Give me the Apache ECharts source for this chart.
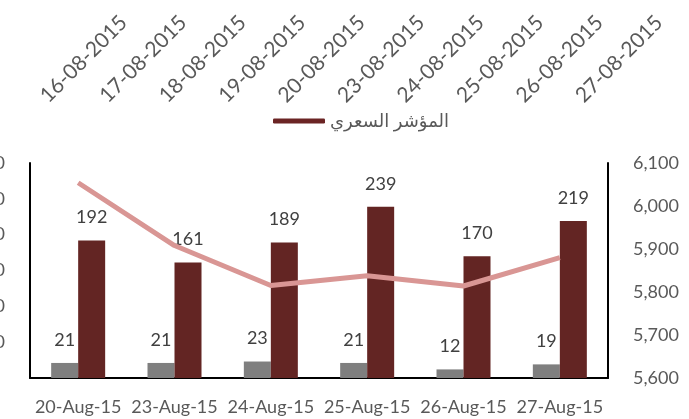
<!DOCTYPE html>
<html>
<head>
<meta charset="utf-8">
<script src="https://cdn.jsdelivr.net/npm/echarts@6/dist/echarts.min.js"></script>
<style>
  html, body { margin: 0; padding: 0; background: #fff; }
  #chart { width: 689px; height: 419px; }
</style>
</head>
<body>
<div id="chart"></div>
<script>
// categories
const days = ['20-Aug-15', '23-Aug-15', '24-Aug-15', '25-Aug-15', '26-Aug-15', '27-Aug-15'];
const topDates = ['16-08-2015', '17-08-2015', '18-08-2015', '19-08-2015', '20-08-2015',
  '23-08-2015', '24-08-2015', '25-08-2015', '26-08-2015', '27-08-2015'];

// series values
const grayValues = [21, 21, 23, 21, 12, 19];
const redValues = [192, 161, 189, 239, 170, 219];
const indexValues = [6054, 5908, 5815, 5838, 5814, 5880];
const lineName = 'المؤشر السعري';

const font = 'Lato, "DejaVu Sans", sans-serif';
const textColor = '#595959';

const chart = echarts.init(document.getElementById('chart'));
chart.setOption({
  animation: false,
  textStyle: { fontFamily: font },
  legend: {
    top: 107,
    left: 268,
    itemWidth: 52,
    itemHeight: 5,
    itemGap: 3,
    textStyle: { fontSize: 18, color: textColor, fontFamily: font },
    data: [{ name: lineName, icon: 'roundRect', itemStyle: { color: '#6b2424' } }]
  },
  grid: [
    { left: 30, right: 81, top: 163, bottom: 41, outerBoundsMode: 'none', containLabel: false },
    { left: 14, right: 80, top: 163, bottom: 41, outerBoundsMode: 'none', containLabel: false }
  ],
  xAxis: [
    {
      type: 'category',
      data: days,
      gridIndex: 0,
      axisLine: { lineStyle: { color: '#000', width: 2 } },
      axisTick: { show: false },
      axisLabel: { fontSize: 18, color: textColor, margin: 20, interval: 0 }
    },
    {
      type: 'category',
      data: topDates,
      gridIndex: 1,
      position: 'top',
      axisLine: { show: false },
      axisTick: { show: false },
      axisLabel: { fontSize: 21, color: textColor, rotate: 45, margin: 64, interval: 0 }
    }
  ],
  yAxis: [
    {
      type: 'value',
      gridIndex: 0,
      min: 0, max: 300, interval: 50,
      axisLine: { show: true, lineStyle: { color: '#000', width: 2 } },
      axisTick: { show: false },
      splitLine: { show: false },
      axisLabel: { fontSize: 18, color: textColor, margin: 25, showMinLabel: false }
    },
    {
      type: 'value',
      gridIndex: 0,
      position: 'right',
      min: 5600, max: 6100, interval: 100,
      axisLine: { show: true, lineStyle: { color: '#000', width: 2 } },
      axisTick: { show: false },
      splitLine: { show: false },
      axisLabel: {
        fontSize: 18, color: textColor, margin: 25,
        formatter: v => v.toLocaleString('en-US')
      }
    },
    { type: 'value', gridIndex: 1, show: false }
  ],
  series: [
    {
      name: 'gray',
      type: 'bar',
      data: grayValues,
      barWidth: 27,
      barGap: '0%',
      itemStyle: { color: '#7f7f7f' },
      label: { show: true, position: 'top', distance: 14, fontSize: 18, color: '#404040' }
    },
    {
      name: 'red',
      type: 'bar',
      data: redValues,
      barWidth: 27,
      barGap: '0%',
      itemStyle: { color: '#632523' },
      label: { show: true, position: 'top', distance: 14, fontSize: 18, color: '#404040' }
    },
    {
      name: lineName,
      type: 'line',
      yAxisIndex: 1,
      data: indexValues,
      symbol: 'none',
      lineStyle: { color: '#d99694', width: 5 },
      itemStyle: { color: '#d99694' },
      z: 5
    }
  ]
});
</script>
</body>
</html>
